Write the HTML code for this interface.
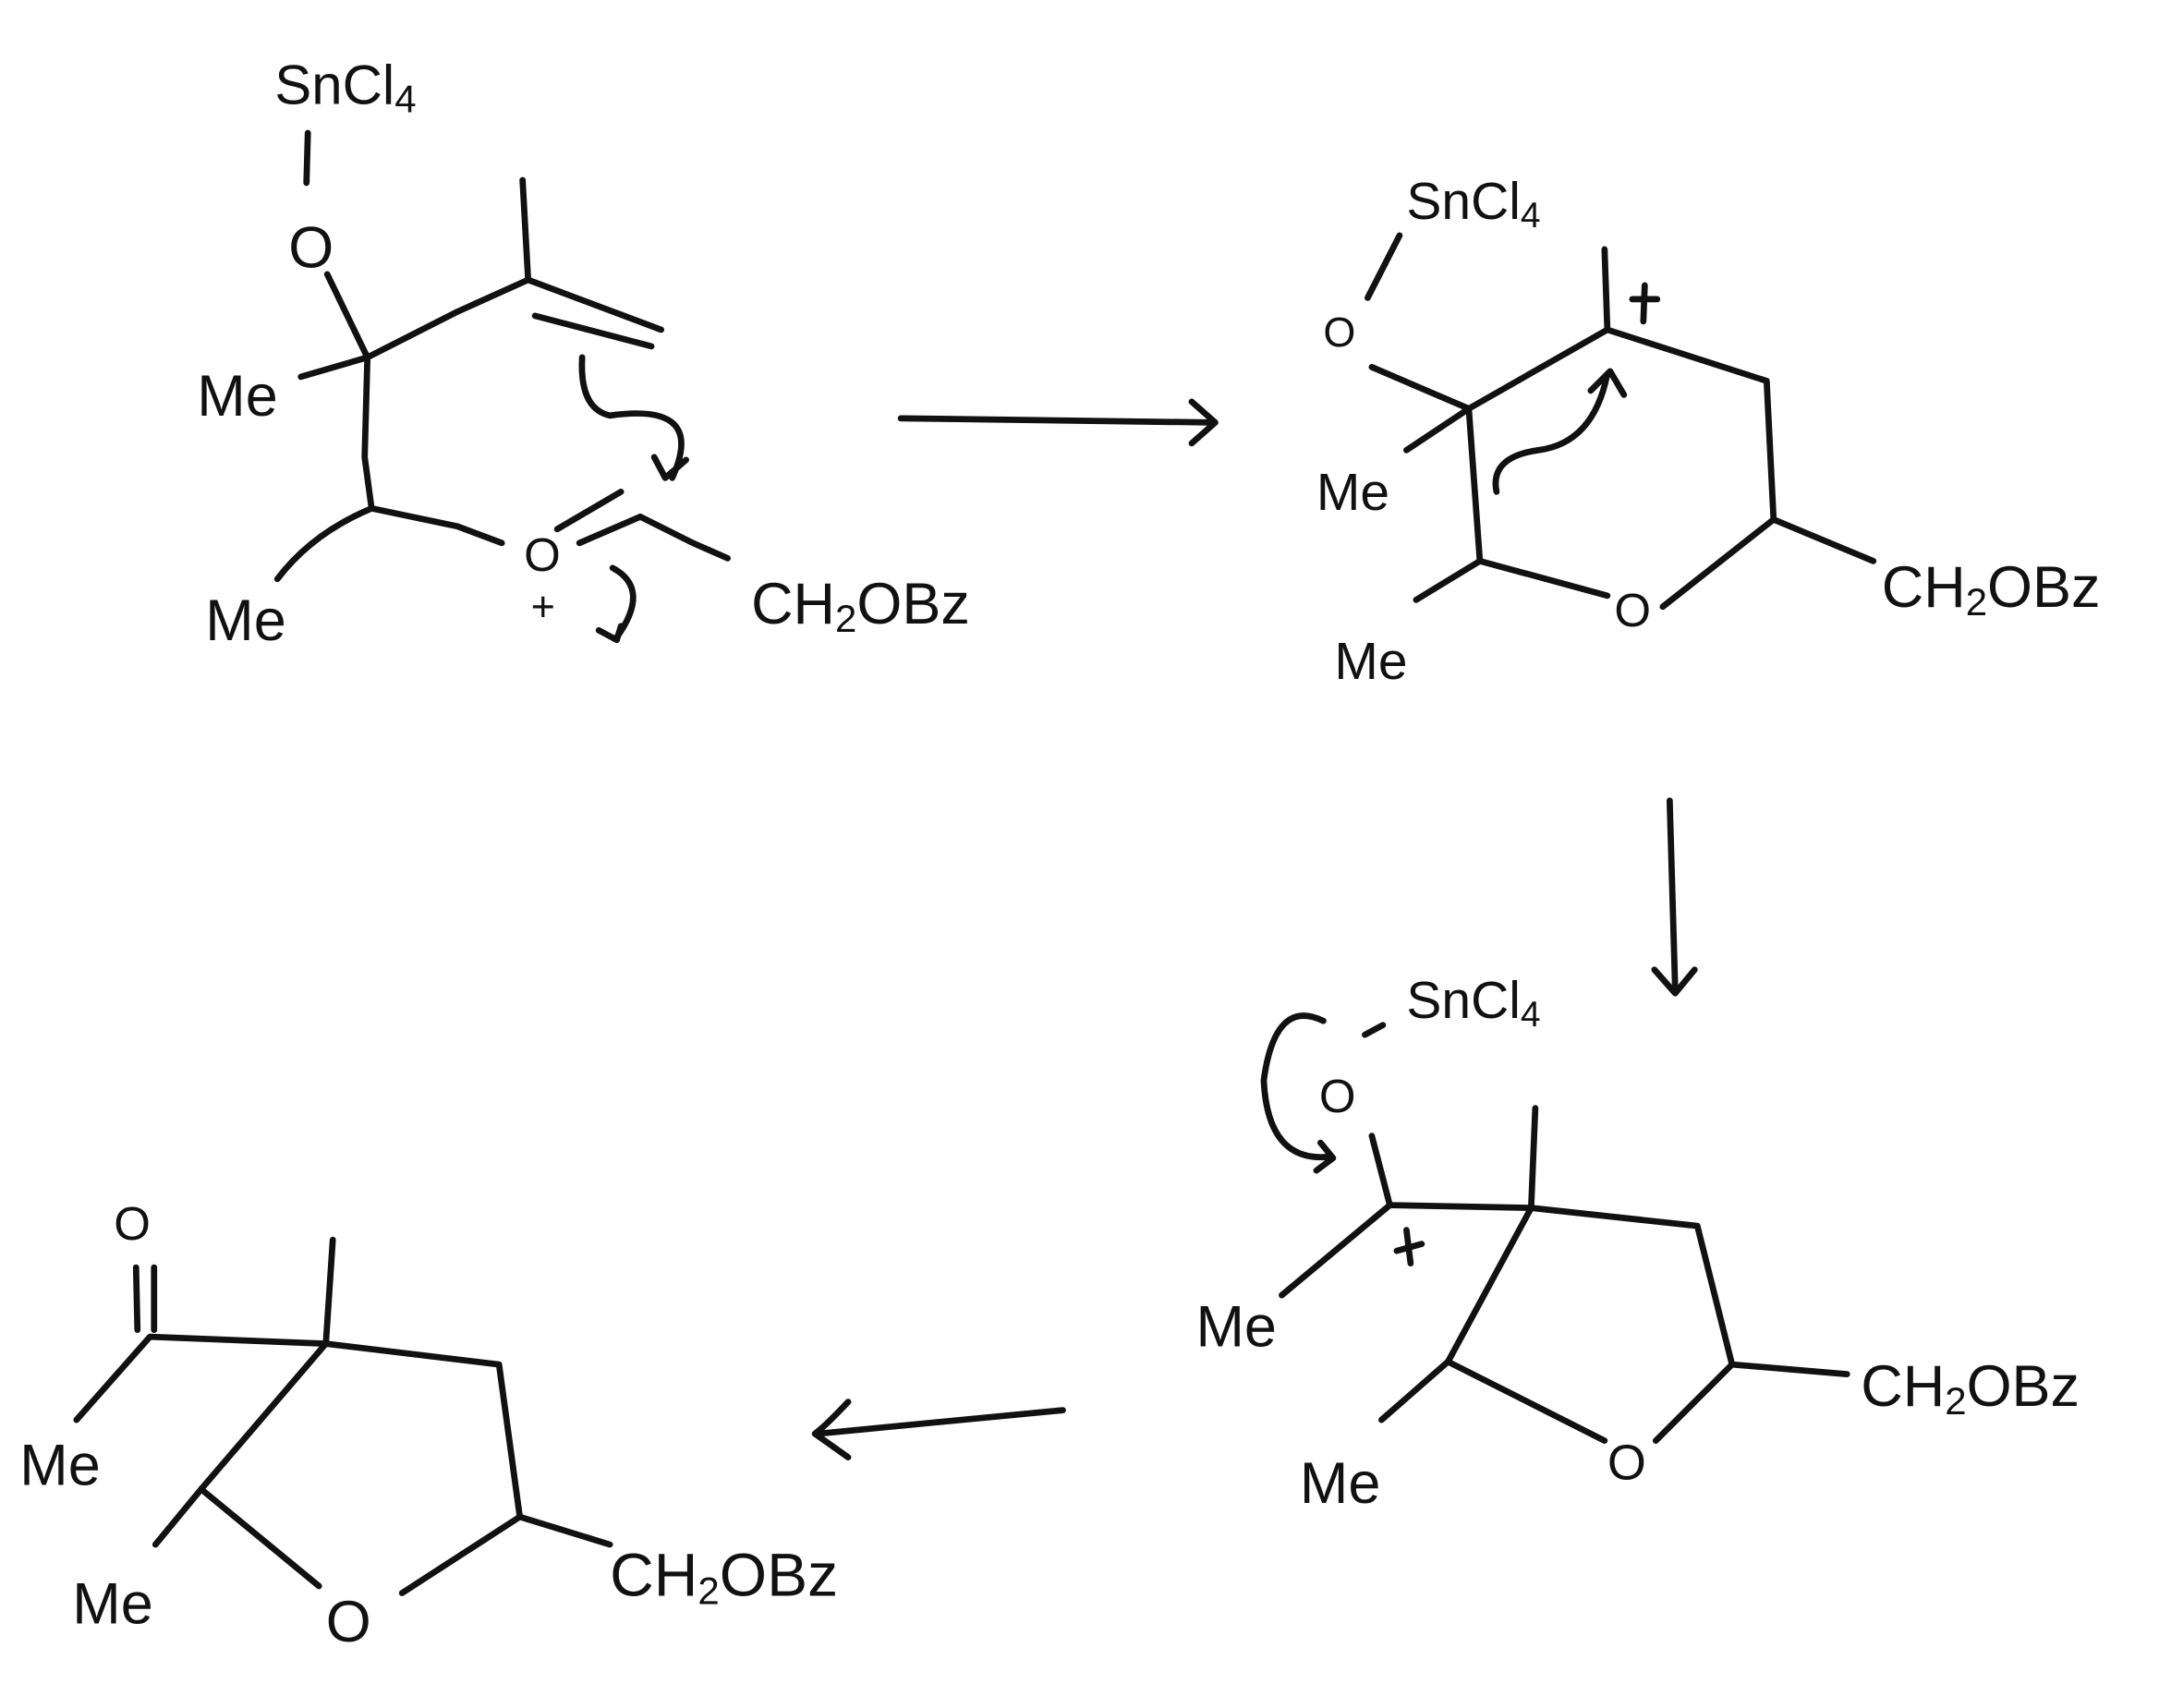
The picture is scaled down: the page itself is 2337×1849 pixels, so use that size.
<!DOCTYPE html>
<html><head><meta charset="utf-8"><style>
html,body{margin:0;padding:0;background:#fff;}
svg{display:block;}
text{font-family:"Liberation Sans",sans-serif;fill:#111;}
</style></head><body>
<svg width="2337" height="1849" viewBox="0 0 1558 1233" xmlns="http://www.w3.org/2000/svg">
<g stroke="#111" stroke-width="4.5" fill="none" stroke-linecap="round" stroke-linejoin="round">
<!-- Structure 1 -->
<line x1="222" y1="96" x2="221" y2="132"/>
<line x1="236" y1="198" x2="265" y2="258"/>
<line x1="217" y1="272" x2="265" y2="258"/>
<polyline points="265,258 330,225 381,202 377,130"/>
<line x1="381" y1="202" x2="477" y2="238"/>
<line x1="386" y1="228" x2="470" y2="250"/>
<polyline points="265,258 263,330 268,367"/>
<polyline points="268,367 330,380 362,392"/>
<path d="M268,367 Q225,385 200,418"/>
<line x1="402" y1="382" x2="448" y2="355"/>
<line x1="418" y1="392" x2="462" y2="373"/>
<polyline points="462,373 500,392 525,403"/>
<path d="M420,258 Q418,295 440,300 Q510,290 485,345"/>
<polyline points="472,330 480,345 495,332"/>
<path d="M442,410 Q470,425 445,460"/>
<polyline points="432,455 445,462 448,452"/>
<!-- arrow right -->
<line x1="650" y1="302" x2="875" y2="305"/>
<polyline points="860,290 877,305 860,320"/>
<!-- Structure 2 -->
<line x1="1010" y1="170" x2="987" y2="215"/>
<line x1="990" y1="265" x2="1060" y2="295"/>
<line x1="1060" y1="295" x2="1015" y2="325"/>
<polyline points="1060,295 1160,238 1275,275 1280,375 1200,438"/>
<line x1="1160" y1="238" x2="1158" y2="180"/>
<line x1="1280" y1="375" x2="1352" y2="405"/>
<polyline points="1160,430 1068,405 1060,295"/>
<line x1="1068" y1="405" x2="1022" y2="433"/>
<path d="M1080,355 Q1075,330 1110,325 Q1150,320 1160,270"/>
<polyline points="1148,282 1162,268 1172,285"/>
<line x1="1178" y1="216" x2="1196" y2="216"/>
<line x1="1187" y1="206" x2="1186" y2="232"/>
<!-- arrow down -->
<line x1="1205" y1="578" x2="1209" y2="715"/>
<polyline points="1194,700 1209,717 1223,700"/>
<!-- Structure 3 -->
<line x1="985" y1="747" x2="998" y2="740"/>
<path d="M955,737 Q920,720 912,780 Q915,840 960,835"/>
<polyline points="953,825 962,836 950,845"/>
<line x1="990" y1="820" x2="1003" y2="870"/>
<polyline points="1003,870 1105,872 1225,885 1250,985 1195,1040"/>
<line x1="1105" y1="872" x2="1108" y2="800"/>
<line x1="1250" y1="985" x2="1333" y2="992"/>
<polyline points="1158,1040 1045,983 1105,872"/>
<line x1="1045" y1="983" x2="997" y2="1025"/>
<line x1="1003" y1="870" x2="925" y2="935"/>
<line x1="1008" y1="903" x2="1026" y2="898"/>
<line x1="1015" y1="888" x2="1018" y2="912"/>
<!-- arrow left -->
<line x1="767" y1="1018" x2="590" y2="1035"/>
<path d="M612,1012 Q595,1030 588,1035 Q598,1042 612,1052"/>
<!-- Structure 4 -->
<line x1="98" y1="915" x2="99" y2="960"/>
<line x1="111" y1="915" x2="111" y2="960"/>
<polyline points="55,1025 108,965 235,970 360,985 375,1095 290,1150"/>
<line x1="235" y1="970" x2="240" y2="895"/>
<line x1="375" y1="1095" x2="440" y2="1115"/>
<polyline points="235,970 145,1075 230,1145"/>
<line x1="145" y1="1075" x2="112" y2="1115"/>
</g>
<g font-size="42">
<text x="198" y="75" font-size="40">SnCl<tspan font-size="28" dy="6">4</tspan></text>
<text x="208" y="193">O</text>
<text x="142" y="300">Me</text>
<text x="148" y="462">Me</text>
<text x="378" y="412" font-size="34">O</text>
<text x="383" y="448" font-size="30">+</text>
<text x="542" y="450">CH<tspan font-size="28" dy="6">2</tspan><tspan dy="-6">OBz</tspan></text>
<text x="1015" y="158" font-size="38">SnCl<tspan font-size="26" dy="6">4</tspan></text>
<text x="955" y="250" font-size="30">O</text>
<text x="950" y="368" font-size="38">Me</text>
<text x="1165" y="452" font-size="34">O</text>
<text x="1358" y="438">CH<tspan font-size="28" dy="6">2</tspan><tspan dy="-6">OBz</tspan></text>
<text x="963" y="490" font-size="38">Me</text>
<text x="1015" y="735" font-size="38">SnCl<tspan font-size="26" dy="6">4</tspan></text>
<text x="952" y="803" font-size="34">O</text>
<text x="863" y="972">Me</text>
<text x="1160" y="1068" font-size="36">O</text>
<text x="1343" y="1015">CH<tspan font-size="28" dy="6">2</tspan><tspan dy="-6">OBz</tspan></text>
<text x="938" y="1085">Me</text>
<text x="82" y="895" font-size="34">O</text>
<text x="14" y="1072">Me</text>
<text x="52" y="1172">Me</text>
<text x="235" y="1185">O</text>
<text x="440" y="1152" font-size="44">CH<tspan font-size="28" dy="6">2</tspan><tspan dy="-6">OBz</tspan></text>
</g>
</svg>
</body></html>
